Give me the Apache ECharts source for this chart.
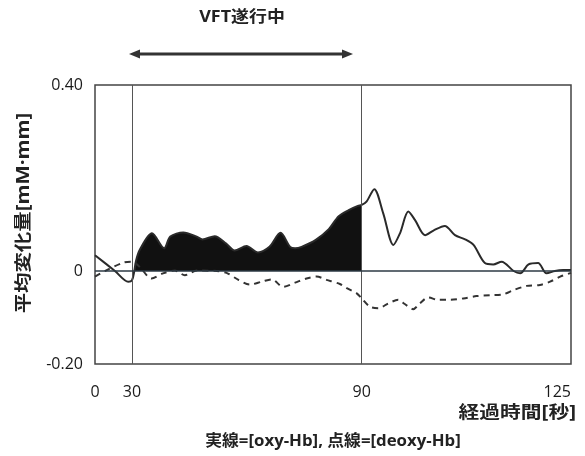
<!DOCTYPE html>
<html>
<head>
<meta charset="utf-8">
<script src="https://cdn.jsdelivr.net/npm/echarts@6/dist/echarts.min.js"></script>
<style>html,body{margin:0;padding:0;background:#fff;}#c{width:585px;height:456px;}</style>
</head>
<body>
<div id="c"></div>
<script>
// ---- data (time in seconds, value in mM·mm) ----
const xTickLabels = [0, 30, 90, 125];
const yTickLabels = [-0.2, 0, 0.4];
const taskWindow = [30, 90];

const oxyTime = [0, 16.2, 27, 30, 30.6, 31, 32, 35.2, 38.4, 40, 43.4, 46.9, 48.4, 51.6, 54.6, 56.8, 59.9, 62.9, 65.9, 68.8, 71.3, 72.6, 74.3, 78, 81.4, 84, 86.6, 89, 90,
  90.8, 92.1, 93.6, 95.3, 96.4, 97.8, 98.9, 100.6, 102, 103.9, 105.6, 107.3, 108.7, 110.6, 112, 113.4, 115.4, 116.5, 117.9, 119.5, 120.9, 122.3, 123.7, 125];
const oxyValue = [0.034, 0.0, -0.023, -0.02, 0.0, 0.02, 0.045, 0.081, 0.049, 0.074, 0.083, 0.074, 0.068, 0.075, 0.059, 0.044, 0.054, 0.040, 0.052, 0.082, 0.052, 0.049, 0.052, 0.067, 0.09, 0.118, 0.131, 0.14, 0.142,
  0.149, 0.176, 0.124, 0.056, 0.081, 0.128, 0.110, 0.077, 0.087, 0.097, 0.077, 0.068, 0.056, 0.017, 0.014, 0.020, 0.0, -0.005, 0.014, 0.017, -0.005, 0.0, 0.002, 0.002];

const deoxyTime = [0, 9.5, 23, 30, 32, 35.1, 38.1, 41.2, 43.8, 46.9, 52.1, 54.7, 57.8, 60.8, 63.9, 66.5, 69.5, 72.6, 75.6, 78.2, 80.8, 84.3, 86.1, 88.7, 90,
  91.4, 92.8, 94.4, 96.1, 97.2, 98.6, 99.7, 101.1, 102.8, 104.8, 107, 109.2, 111.5, 113.7, 115.4, 117.6, 119.8, 121.5, 123.2, 125];
const deoxyValue = [-0.012, 0.002, 0.018, 0.020, 0.009, -0.016, -0.005, 0.001, -0.009, 0.001, 0.0, -0.004, -0.019, -0.029, -0.023, -0.018, -0.034, -0.025, -0.016, -0.012, -0.019, -0.028, -0.037, -0.048, -0.059,
  -0.077, -0.080, -0.070, -0.062, -0.071, -0.082, -0.070, -0.057, -0.062, -0.062, -0.059, -0.054, -0.052, -0.050, -0.041, -0.032, -0.030, -0.023, -0.012, -0.004];

// ---- piecewise time scale of the original figure (axis units ∝ drawn widths) ----
const scaleTime = [0, 30, 90, 125];
const scaleUnit = [0, 37, 266.7, 476];
function tx(t) {
  for (let i = 1; i < scaleTime.length; i++) {
    if (t <= scaleTime[i] || i === scaleTime.length - 1) {
      const a = scaleTime[i - 1], b = scaleTime[i];
      return scaleUnit[i - 1] + (t - a) / (b - a) * (scaleUnit[i] - scaleUnit[i - 1]);
    }
  }
}
const oxy = oxyTime.map((t, i) => [tx(t), oxyValue[i]]);
const deoxy = deoxyTime.map((t, i) => [tx(t), deoxyValue[i]]);
const oxyFill = oxyTime.map((t, i) => [t, oxyValue[i]])
  .filter(p => p[0] >= 30.6 && p[0] <= taskWindow[1]).map(p => [tx(p[0]), p[1]]);

const FONT = "'Open Sans', 'Noto Sans CJK JP', sans-serif";
const chart = echarts.init(document.getElementById('c'), null, {renderer: 'canvas'});
chart.setOption({
  animation: false,
  backgroundColor: '#fff',
  grid: {left: 95, right: 14, top: 85, bottom: 92, show: true, borderColor: '#444', borderWidth: 1.5, containLabel: false},
  xAxis: {
    type: 'value', min: 0, max: tx(125),
    axisLine: {show: false}, axisTick: {show: false}, splitLine: {show: false},
    axisLabel: {
      customValues: xTickLabels.map(tx),
      formatter: v => { const t = xTickLabels.find(s => Math.abs(tx(s) - v) < 0.01); return t === undefined ? '' : String(t); },
      color: '#1a1a1a', fontSize: 16, fontFamily: FONT, margin: 20, alignMaxLabel: 'right'
    }
  },
  yAxis: {
    type: 'value', min: -0.2, max: 0.4,
    axisLine: {show: false}, axisTick: {show: false}, splitLine: {show: false},
    axisLabel: {
      customValues: yTickLabels,
      formatter: v => v === 0 ? '0' : v.toFixed(2),
      color: '#1a1a1a', fontSize: 16, fontFamily: FONT, margin: 12
    }
  },
  series: [
    {
      type: 'line', data: oxyFill, smooth: 0.3, symbol: 'none', silent: true,
      lineStyle: {width: 0}, areaStyle: {color: '#111', opacity: 1}, z: 2
    },
    {
      type: 'line', data: oxy, smooth: 0.3, symbol: 'none',
      lineStyle: {color: '#2a2a2a', width: 2}, z: 4,
      markLine: {
        silent: true, symbol: 'none', label: {show: false},
        data: [
          {xAxis: tx(taskWindow[0]), lineStyle: {color: '#555', width: 1, type: 'solid'}},
          {xAxis: tx(taskWindow[1]), lineStyle: {color: '#555', width: 1, type: 'solid'}},
          {yAxis: 0, lineStyle: {color: '#2d3a44', width: 1.6, type: 'solid'}}
        ]
      }
    },
    {
      type: 'line', data: deoxy, smooth: 0.3, symbol: 'none',
      lineStyle: {color: '#333', width: 2, type: [6, 5]}, z: 3
    }
  ],
  graphic: [
    {type: 'text', x: 242, y: 17, scaleX: 1.12, style: {text: 'VFT遂行中', align: 'center', verticalAlign: 'middle', fill: '#222', font: "bold 16px 'Open Sans', 'Noto Sans CJK JP', sans-serif"}},
    {type: 'line', shape: {x1: 136, y1: 54, x2: 346, y2: 54}, style: {stroke: '#333', lineWidth: 3}},
    {type: 'polygon', shape: {points: [[129, 54], [140, 49.5], [140, 58.5]]}, style: {fill: '#333'}},
    {type: 'polygon', shape: {points: [[353, 54], [342, 49.5], [342, 58.5]]}, style: {fill: '#333'}},
    {type: 'text', x: 24, y: 213, rotation: Math.PI / 2, scaleX: 1.2, style: {text: '平均変化量[mM·mm]', align: 'center', verticalAlign: 'middle', fill: '#222', font: "bold 17px 'Open Sans', 'Noto Sans CJK JP', sans-serif"}},
    {type: 'text', x: 576, y: 413, scaleX: 1.22, style: {text: '経過時間[秒]', align: 'right', verticalAlign: 'middle', fill: '#222', font: "bold 17px 'Open Sans', 'Noto Sans CJK JP', sans-serif"}},
    {type: 'text', x: 333, y: 441, scaleX: 1.05, style: {text: '実線=[oxy-Hb], 点線=[deoxy-Hb]', align: 'center', verticalAlign: 'middle', fill: '#222', font: "bold 16px 'Open Sans', 'Noto Sans CJK JP', sans-serif"}}
  ]
});
</script>
</body>
</html>
